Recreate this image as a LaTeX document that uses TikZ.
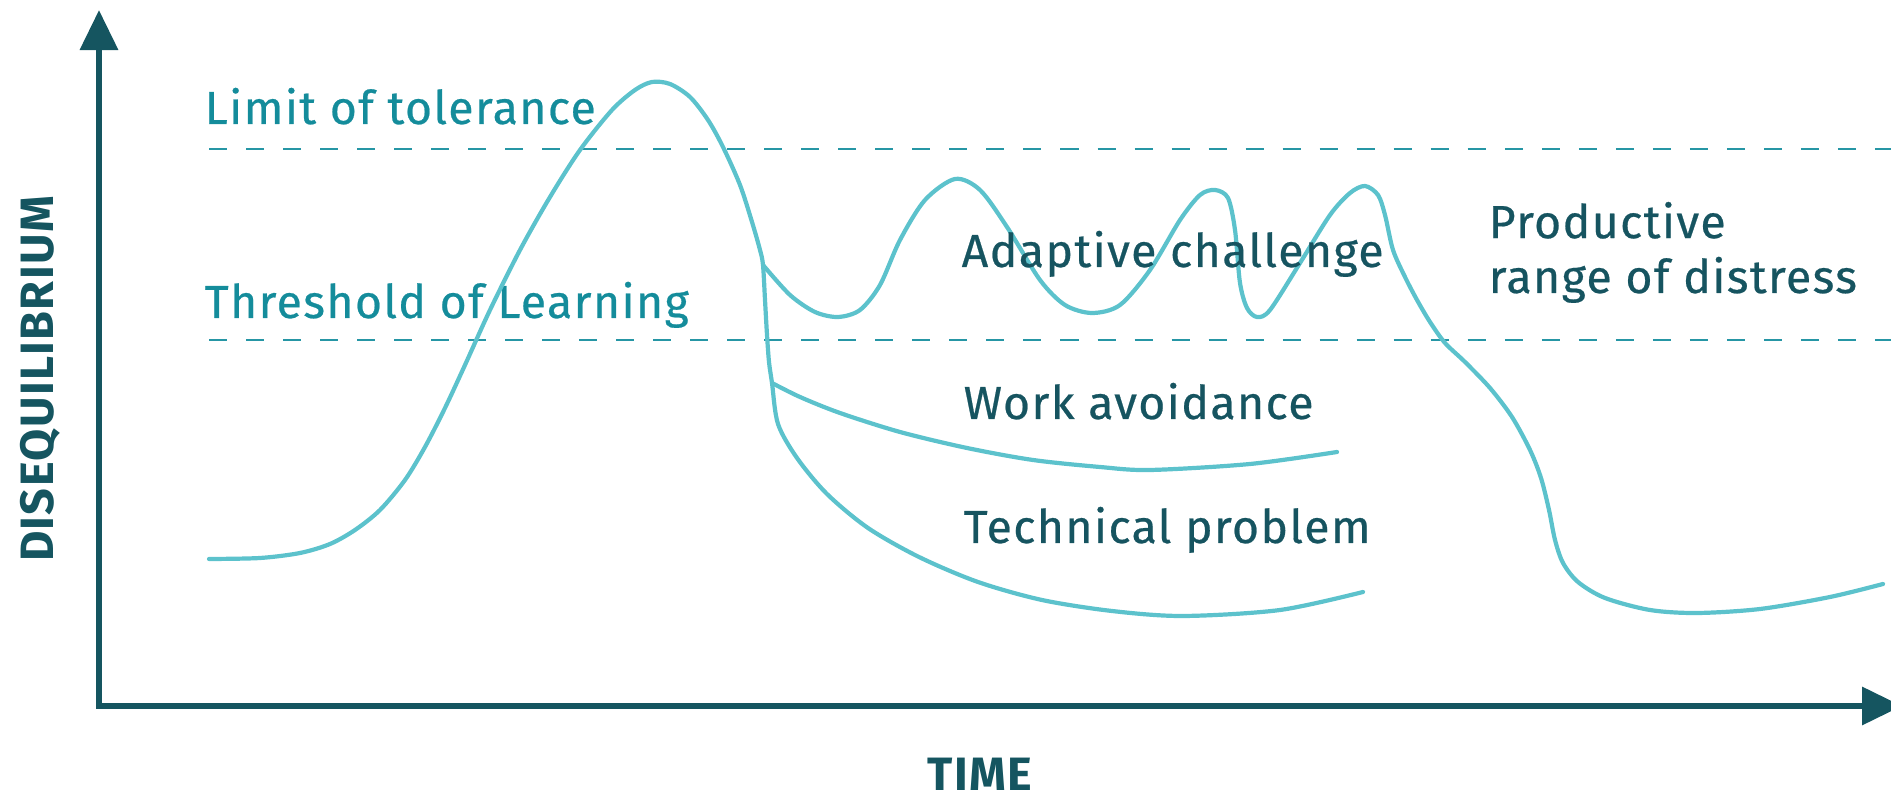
\documentclass[tikz,border=0pt]{standalone}
\usepackage{fontspec}
\setmainfont{Fira Sans}[LetterSpace=3]
\newfontfamily\labelfont{Fira Sans}[LetterSpace=3, FakeBold=0.5]
\usetikzlibrary{arrows.meta}

\definecolor{axiscol}{RGB}{21,85,96}
\definecolor{levelcol}{RGB}{20,140,155}
\definecolor{dashcol}{RGB}{38,150,165}
\definecolor{curvecol}{RGB}{92,194,204}
\definecolor{textcol}{RGB}{22,84,96}

\begin{document}
\begin{tikzpicture}[x=0.01cm, y=-0.01cm,
        axis/.style={axiscol, line width=0.065cm, -{Triangle[length=0.4cm, width=0.37cm]}},
        level/.style={dashcol, line width=0.022cm, dash pattern=on 0.18cm off 0.19cm},
        curve/.style={curvecol, line width=0.042cm, line cap=round},
        levellabel/.style={levelcol, anchor=base west, inner sep=0, font=\labelfont\fontsize{13.2}{15.6}\selectfont},
        zonelabel/.style={textcol, anchor=base west, inner sep=0, font=\labelfont\fontsize{13.2}{15.6}\selectfont},
        axislabel/.style={axiscol, anchor=base, inner sep=0, font=\fontsize{13.3}{16}\selectfont\bfseries}]
        \useasboundingbox (0,0) rectangle (1891,801);

        % axes
        \draw[axis] (99,706) -- (99,10);
        \draw[axis] (96,706) -- (1902,706);
        \node[axislabel, rotate=90] (ylab) at (53,379) {DISEQUILIBRIUM};
        \node[axislabel] (xlab) at (980,791) {TIME};

        % levels
        \draw[level] (209,149) -- (1891,149);
        \draw[level] (209,340) -- (1891,340);
        \node[levellabel] (limit) at (204,124) {Limit of tolerance};
        \node[levellabel] (threshold) at (204,318) {Threshold of Learning};

        % curves
        \coordinate (split1) at (763,265);
        \coordinate (split2) at (772,383);
        \draw[curve] plot[smooth] coordinates {(209,559) (260,558) (300,553) (330,544) (355,530)
            (380,510) (405,480) (425,447) (445,408) (465,365) (490,310) (520,250) (550,197) (580,150)
            (612,110) (635,90) (652,82) (670,84) (690,97) (708,120) (723,147) (740,185) (752,222)
            (760,250) (763,265) (765,300) (767,335) (769,362) (772,383) (778,424) (797,458) (827,494)
            (868,528) (919,557) (978,582) (1042,600) (1112,611) (1183,616) (1280,610) (1363,592)};
        \draw[curve] plot[smooth] coordinates {(split1) (790,295) (815,312) (838,317) (860,310) (880,285)
            (900,240) (925,200) (955,179) (980,190) (1007,227) (1040,280) (1065,305) (1092,313)
            (1120,305) (1150,270) (1180,220) (1200,195) (1215,190) (1228,198) (1235,230) (1240,283)
            (1247,308) (1257,317) (1270,310) (1300,263) (1330,215) (1350,193) (1365,186) (1378,195)
            (1385,215) (1393,250) (1405,277) (1417,300) (1430,322) (1445,343) (1465,362) (1490,388)
            (1512,417) (1530,450) (1541,478) (1549,510) (1555,540) (1563,563) (1578,582) (1605,598)
            (1650,610) (1697,613) (1760,609) (1830,597) (1883,584)};
        \draw[curve] plot[smooth] coordinates {(split2) (800,397) (840,413) (900,432) (967,448)
            (1033,460) (1100,467) (1150,470) (1250,464) (1337,452)};

        % zones
        \node[zonelabel] (adaptive) at (961,267) {Adaptive challenge};
        \node[zonelabel] (avoid) at (963,419) {Work avoidance};
        \node[zonelabel] (technical) at (963,543) {Technical problem};
        \node[zonelabel, align=left] (productive) at (1488,293) {Productive\\range of distress};
    \end{tikzpicture}
\end{document}
